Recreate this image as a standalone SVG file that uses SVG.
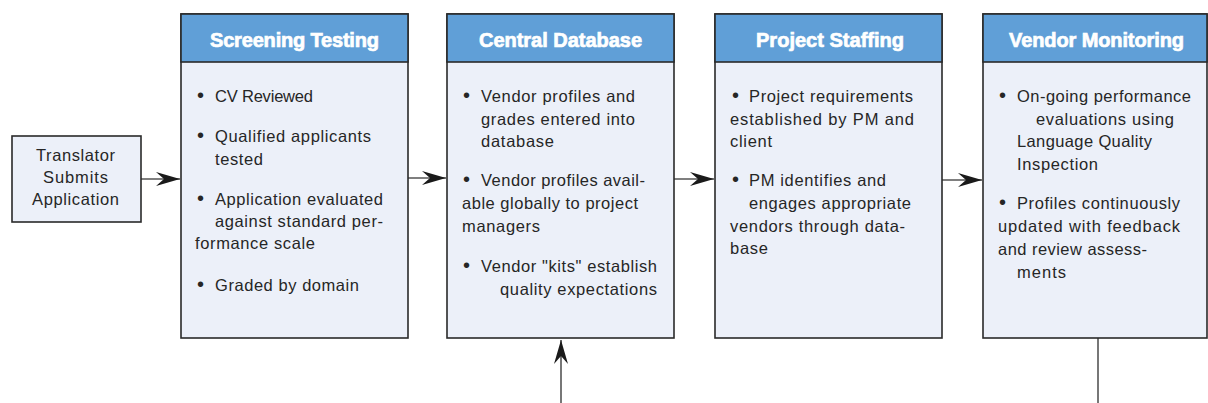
<svg xmlns="http://www.w3.org/2000/svg" width="1208" height="403" viewBox="0 0 1208 403">
<defs>
<marker id="ah" viewBox="0 0 24 16" refX="24" refY="8" markerWidth="24" markerHeight="16" markerUnits="userSpaceOnUse" orient="auto">
<path d="M0,1 L24,8 L0,15 L8,8 Z" fill="#1a1a1a"/>
</marker>
<style>
.box{fill:#ECF0F9;stroke:#2a2a2a;stroke-width:1.6}
.hdr{fill:#609FD7;stroke:#2a2a2a;stroke-width:1.6}
.ht{font-family:"Liberation Sans",Arial,sans-serif;font-weight:bold;font-size:20px;fill:#fff;stroke:#fff;stroke-width:0.7}
.t{font-family:"Liberation Sans",Arial,sans-serif;font-size:16.5px;fill:#262626}
.b{font-family:"Liberation Sans",Arial,sans-serif;font-size:20px;fill:#262626}
.con{stroke:#555;stroke-width:1.6;fill:none}
</style>
</defs>
<rect width="1208" height="403" fill="#fff"/>
<g id="connectors">
<line class="con" x1="141" y1="179" x2="180" y2="179" marker-end="url(#ah)"/>
<line class="con" x1="408" y1="178" x2="446" y2="178" marker-end="url(#ah)"/>
<line class="con" x1="674" y1="179" x2="714" y2="179" marker-end="url(#ah)"/>
<line class="con" x1="942" y1="180" x2="982" y2="180" marker-end="url(#ah)"/>
<line class="con" x1="561" y1="403" x2="561" y2="340" marker-end="url(#ah)"/>
<line class="con" x1="1098" y1="338" x2="1098" y2="403"/>
</g>
<g id="translator">
<rect x="12" y="136" width="129" height="86" fill="#ECF0F9" stroke="#2a2a2a" stroke-width="1.6"/>
<text class="t" x="36" y="161" textLength="79">Translator</text>
<text class="t" x="43" y="183" textLength="65">Submits</text>
<text class="t" x="32" y="205" textLength="87">Application</text>
</g>
<g id="screening">
<rect class="box" x="181" y="14" width="227" height="324"/>
<rect class="hdr" x="181" y="14" width="227" height="48"/>
<text class="ht" x="210" y="47" textLength="169">Screening Testing</text>
<text class="b" x="197" y="102">•</text><text class="t" x="215" y="102" textLength="98">CV Reviewed</text>
<text class="b" x="197" y="142">•</text><text class="t" x="215" y="142" textLength="156">Qualified applicants</text>
<text class="t" x="215" y="165" textLength="48">tested</text>
<text class="b" x="197" y="205">•</text><text class="t" x="215" y="205" textLength="168">Application evaluated</text>
<text class="t" x="215" y="227" textLength="168">against standard per-</text>
<text class="t" x="195" y="249" textLength="120">formance scale</text>
<text class="b" x="197" y="291">•</text><text class="t" x="215" y="291" textLength="144">Graded by domain</text>
</g>
<g id="central">
<rect class="box" x="447" y="14" width="227" height="324"/>
<rect class="hdr" x="447" y="14" width="227" height="48"/>
<text class="ht" x="479" y="47" textLength="163">Central Database</text>
<text class="b" x="463" y="102">•</text><text class="t" x="481" y="102" textLength="154">Vendor profiles and</text>
<text class="t" x="481" y="125" textLength="154">grades entered into</text>
<text class="t" x="481" y="147" textLength="73">database</text>
<text class="b" x="463" y="186">•</text><text class="t" x="481" y="186" textLength="164">Vendor profiles avail-</text>
<text class="t" x="462" y="209" textLength="176">able globally to project</text>
<text class="t" x="462" y="232" textLength="78">managers</text>
<text class="b" x="463" y="272">•</text><text class="t" x="481" y="272" textLength="176">Vendor "kits" establish</text>
<text class="t" x="500" y="295" textLength="157">quality expectations</text>
</g>
<g id="staffing">
<rect class="box" x="715" y="14" width="227" height="324"/>
<rect class="hdr" x="715" y="14" width="227" height="48"/>
<text class="ht" x="756" y="47" textLength="148">Project Staffing</text>
<text class="b" x="732" y="102">•</text><text class="t" x="749" y="102" textLength="164">Project requirements</text>
<text class="t" x="730" y="125" textLength="184">established by PM and</text>
<text class="t" x="730" y="147" textLength="42">client</text>
<text class="b" x="732" y="186">•</text><text class="t" x="749" y="186" textLength="137">PM identifies and</text>
<text class="t" x="749" y="209" textLength="162">engages appropriate</text>
<text class="t" x="730" y="232" textLength="175">vendors through data-</text>
<text class="t" x="730" y="254" textLength="38">base</text>
</g>
<g id="monitoring">
<rect class="box" x="983" y="14" width="224" height="324"/>
<rect class="hdr" x="983" y="14" width="224" height="48"/>
<text class="ht" x="1009" y="47" textLength="175">Vendor Monitoring</text>
<text class="b" x="999" y="102">•</text><text class="t" x="1017" y="102" textLength="174">On-going performance</text>
<text class="t" x="1036" y="125" textLength="138">evaluations using</text>
<text class="t" x="1017" y="147" textLength="135">Language Quality</text>
<text class="t" x="1017" y="170" textLength="81">Inspection</text>
<text class="b" x="999" y="209">•</text><text class="t" x="1017" y="209" textLength="163">Profiles continuously</text>
<text class="t" x="998" y="232" textLength="182">updated with feedback</text>
<text class="t" x="998" y="255" textLength="149">and review assess-</text>
<text class="t" x="1017" y="278" textLength="49">ments</text>
</g>
</svg>
